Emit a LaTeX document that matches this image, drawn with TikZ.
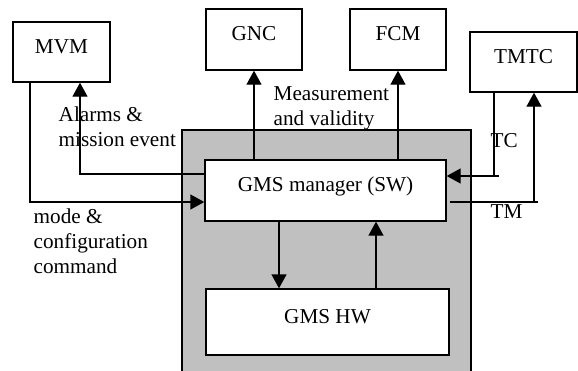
\documentclass[tikz,border=0pt]{standalone}
\usepackage{fontspec}
\setmainfont{Liberation Serif}
\usetikzlibrary{arrows.meta}
\begin{document}
\begin{tikzpicture}[x=0.5pt,y=-0.5pt,line width=0.7pt]
\tikzstyle{boite}=[draw,fill=white,text height=7pt,text depth=6pt,inner sep=0pt]
\tikzstyle{fleche}=[-{Triangle[length=7pt,width=7.5pt]}]
\tikzstyle{texte}=[anchor=base west,align=left,inner sep=0pt]
\fontsize{10.6}{12.4}\selectfont
\useasboundingbox (0,0) rectangle (578,370);
\filldraw[fill={rgb,255:red,192;green,192;blue,192}] (182,380) -- (182,130) -- (471,130) -- (471,380);
\node[boite,minimum width=48.5pt,minimum height=30pt] (MVM) at (61.5,52) {MVM};
\node[boite,minimum width=48pt,minimum height=30.5pt] (GNC) at (254,39.5) {GNC};
\node[boite,minimum width=48pt,minimum height=30.5pt] (FCM) at (398,39.5) {FCM};
\node[boite,minimum width=53.5pt,minimum height=30pt] (TMTC) at (523.5,62) {TMTC};
\node[boite,minimum width=120.5pt,minimum height=30.5pt] (mgr) at (325.5,190.5) {GMS manager (SW)};
\node[boite,minimum width=121.5pt,minimum height=33pt] (hw) at (327.5,322) {GMS HW};
\coordinate (al) at (80,174);
\coordinate (mo) at (30,202);
\coordinate (tc) at (494,176);
\coordinate (tm) at (534,202);
\coordinate (dn) at (279,0);
\coordinate (up) at (376,0);
\draw[fleche] (mgr.west |- al) -| (MVM.south -| al);
\draw[fleche] (MVM.south -| mo) |- (mgr.west |- mo);
\draw[fleche] (mgr.north -| GNC) -- (GNC.south);
\draw[fleche] (mgr.north -| FCM) -- (FCM.south);
\draw[fleche] (TMTC.south -| tc) |- (mgr.east |- tc);
\draw (tc) -- ++(5,0);
\draw[fleche] ([xshift=1.5pt]mgr.east |- tm) -- (tm) -- (TMTC.south -| tm);
\draw (tm) -- ++(4,0);
\draw[fleche] (mgr.south -| dn) -- (hw.north -| dn);
\draw[fleche] (hw.north -| up) -- (mgr.south -| up);
\node[texte] (alarme) at (58,146.5) {Alarms \&\\mission event};
\node[texte] (mode) at (33,273) {mode \&\\configuration\\command};
\node[texte] (mesure) at (273,125) {Measurement\\and validity};
\node[texte] (tclab) at (490,147) {TC};
\node[texte] (tmlab) at (490,218) {TM};
\end{tikzpicture}
\end{document}
